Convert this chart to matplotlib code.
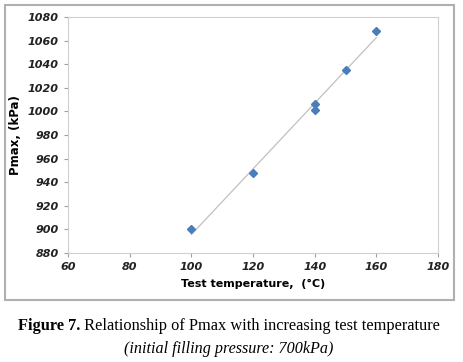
import matplotlib.pyplot as plt
from matplotlib.patches import Rectangle
import numpy as np

# data
temps = [100, 120, 140, 140, 150, 160]
pmax = [900, 948, 1006, 1001, 1035, 1068]
xticks = [60, 80, 100, 120, 140, 160, 180]
yticks = [880, 900, 920, 940, 960, 980, 1000, 1020, 1040, 1060, 1080]

fig = plt.figure(figsize=(4.63, 3.62), dpi=100)
fig.patch.set_facecolor('white')

# outer chart frame
fig.patches.append(Rectangle((5/463, 1-300/362), 449/463, 295/362, transform=fig.transFigure,
                             fill=False, edgecolor='#b0b0b0', linewidth=1.5))

ax = fig.add_axes([68/463, 1-253/362, 370/463, 236/362])

# linear trend line
coef = np.polyfit(temps, pmax, 1)
xs = np.array([min(temps), max(temps)])
ax.plot(xs, np.polyval(coef, xs), color='#c0c0c0', linewidth=0.9, zorder=1)
ax.plot(temps, pmax, 'D', color='#4a7ebb', markersize=4.5, zorder=2)

ax.set_xlim(60, 180)
ax.set_ylim(880, 1080)
ax.set_xticks(xticks)
ax.set_yticks(yticks)
for spine in ax.spines.values():
    spine.set_color('#d0d0d0')
ax.tick_params(colors='#a0a0a0', length=3, labelcolor='#222222', labelsize=8)
for lab in ax.get_xticklabels() + ax.get_yticklabels():
    lab.set_fontweight('bold')
    lab.set_fontstyle('italic')

ax.set_xlabel('Test temperature,  (\u00b0C)', fontsize=8, fontweight='bold', labelpad=5)
ax.set_ylabel('Pmax, (kPa)', fontsize=8.5, fontweight='bold', labelpad=4)

# caption
r = fig.canvas.get_renderer()
t1 = fig.text(0, 1-326/362, 'Figure 7.', family='Liberation Serif', fontsize=11.8,
              fontweight='bold', va='center')
t2 = fig.text(0, 1-326/362, ' Relationship of Pmax with increasing test temperature',
              family='Liberation Serif', fontsize=11.8, va='center')
w1 = t1.get_window_extent(r).width
w2 = t2.get_window_extent(r).width
x0 = 229 - (w1 + w2) / 2
t1.set_x(x0 / 463)
t2.set_x((x0 + w1) / 463)
fig.text(229/463, 1-349/362, '(initial filling pressure: 700kPa)', family='Liberation Serif',
         fontsize=11.6, style='italic', ha='center', va='center')

fig.savefig('out.png', dpi=100)
